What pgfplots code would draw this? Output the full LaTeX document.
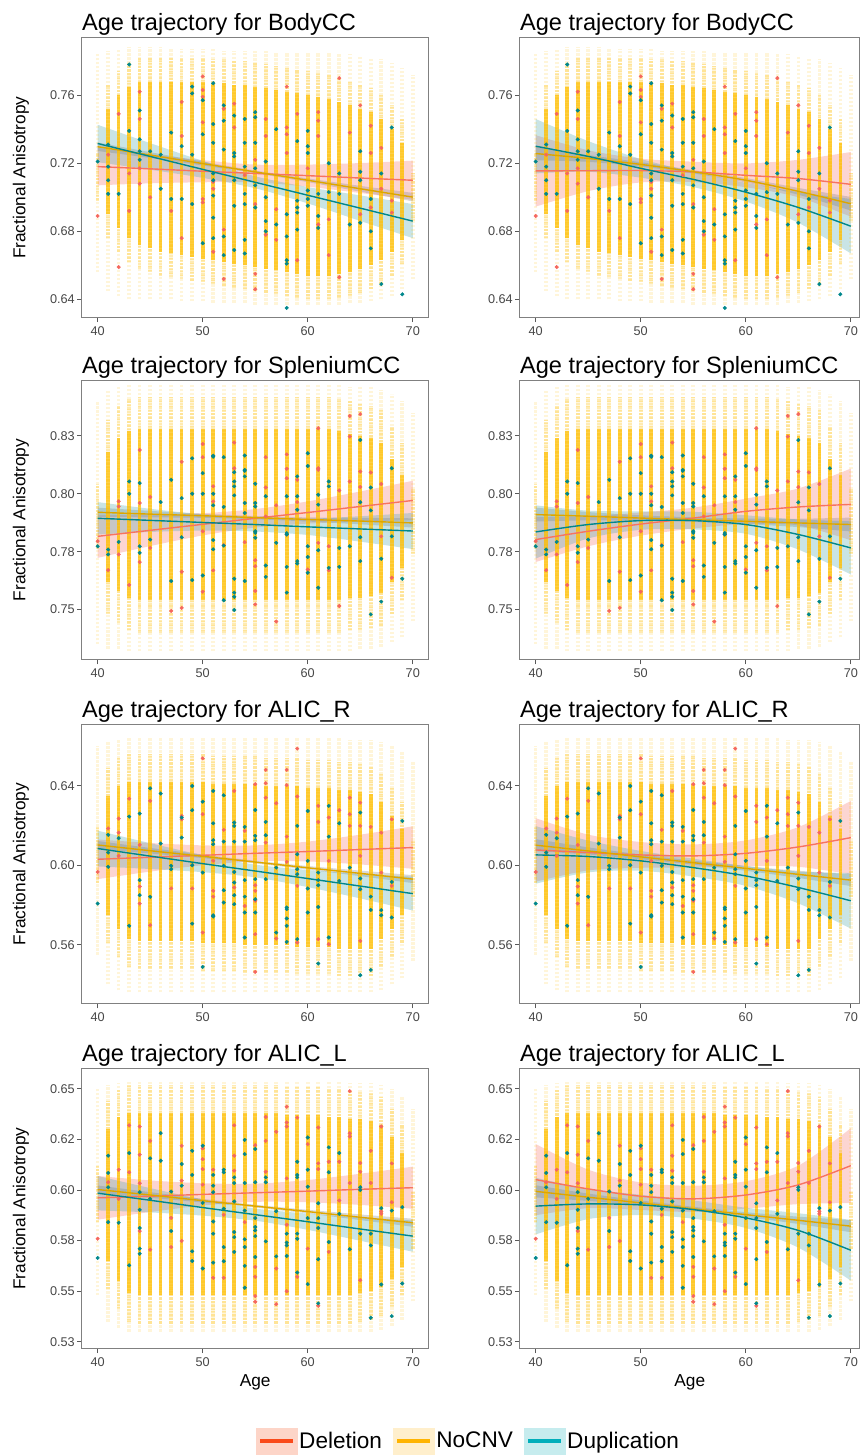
\documentclass[border=0pt]{standalone}
\usepackage{fontspec}
\setmainfont{Liberation Sans}
\usepackage{pgfplots}
\usepackage{pgfplotstable}
\pgfplotsset{compat=1.18}
\usepgfplotslibrary{fillbetween}

\definecolor{delc}{HTML}{F5675F}
\definecolor{dell}{HTML}{F8735F}
\definecolor{dupc}{HTML}{00878C}
\definecolor{noc}{HTML}{FFBE00}
\definecolor{nocl}{HTML}{DDA600}
\definecolor{dupband}{HTML}{3E9EA2}
\definecolor{legdel}{HTML}{FA4A1A}
\definecolor{legdelf}{HTML}{FDD5C8}
\definecolor{legno}{HTML}{FFB400}
\definecolor{legnof}{HTML}{FFEFCC}
\definecolor{legdup}{HTML}{00AEBA}
\definecolor{legdupf}{HTML}{C6ECEE}

% ---------- NoCNV column extents: age lo q1 q3 hi ----------
\pgfplotstableread{
age lo q1 q3 hi
40 .656 .712 .712 .784
41 .645 .690 .752 .786
42 .642 .682 .760 .787
43 .640 .676 .765 .788
44 .640 .672 .768 .788
45 .640 .670 .768 .788
46 .640 .668 .768 .788
47 .640 .667 .768 .787
48 .639 .666 .768 .787
49 .639 .665 .768 .787
50 .639 .664 .768 .787
51 .638 .663 .767 .787
52 .638 .662 .767 .786
53 .638 .661 .766 .786
54 .638 .660 .766 .786
55 .637 .659 .765 .786
56 .637 .658 .764 .786
57 .637 .657 .763 .785
58 .637 .656 .762 .785
59 .637 .655 .761 .785
60 .637 .654 .760 .785
61 .637 .654 .759 .785
62 .637 .654 .758 .785
63 .637 .655 .756 .784
64 .638 .656 .754 .784
65 .638 .658 .752 .783
66 .639 .660 .750 .782
67 .640 .663 .746 .781
68 .642 .668 .740 .779
69 .646 .675 .732 .776
70 .652 .700 .700 .772
}\colsA
\pgfplotstableread{
age lo q1 q3 hi
40 .735 .790 .790 .840
41 .733 .762 .818 .845
42 .733 .758 .824 .846
43 .732 .755 .827 .847
44 .732 .754 .828 .847
45 .732 .754 .828 .847
46 .732 .754 .828 .847
47 .732 .754 .828 .847
48 .732 .754 .828 .847
49 .732 .754 .828 .847
50 .732 .754 .828 .847
51 .732 .754 .828 .847
52 .732 .754 .828 .847
53 .732 .754 .828 .847
54 .732 .754 .828 .847
55 .732 .754 .828 .847
56 .732 .754 .828 .847
57 .732 .754 .828 .847
58 .732 .754 .828 .847
59 .732 .754 .828 .847
60 .732 .754 .828 .847
61 .732 .754 .828 .847
62 .732 .754 .828 .847
63 .732 .754 .827 .847
64 .732 .755 .826 .846
65 .733 .755 .825 .846
66 .733 .756 .824 .846
67 .734 .757 .822 .845
68 .736 .762 .815 .843
69 .738 .768 .808 .840
70 .745 .788 .788 .835
}\colsB
\pgfplotstableread{
age lo q1 q3 hi
40 .555 .605 .605 .660
41 .540 .575 .635 .662
42 .537 .568 .640 .663
43 .536 .563 .642 .664
44 .536 .562 .642 .664
45 .536 .562 .642 .664
46 .536 .562 .642 .664
47 .536 .562 .642 .664
48 .536 .562 .642 .664
49 .536 .562 .642 .664
50 .536 .561 .642 .664
51 .536 .561 .641 .664
52 .536 .561 .641 .664
53 .536 .561 .641 .664
54 .536 .560 .641 .664
55 .536 .560 .641 .664
56 .536 .560 .640 .664
57 .536 .560 .640 .664
58 .536 .560 .640 .664
59 .536 .559 .640 .664
60 .536 .559 .639 .664
61 .536 .559 .639 .664
62 .536 .559 .639 .664
63 .536 .558 .638 .664
64 .536 .558 .638 .663
65 .536 .558 .637 .663
66 .536 .558 .636 .663
67 .537 .563 .632 .662
68 .540 .568 .625 .660
69 .543 .575 .618 .657
70 .552 .598 .598 .652
}\colsC
\pgfplotstableread{
age lo q1 q3 hi
40 .548 .598 .598 .650
41 .535 .565 .630 .652
42 .532 .555 .636 .653
43 .530 .549 .638 .654
44 .530 .548 .638 .654
45 .530 .548 .638 .654
46 .530 .548 .638 .654
47 .530 .548 .638 .654
48 .530 .548 .638 .654
49 .530 .548 .638 .654
50 .530 .548 .638 .654
51 .530 .548 .638 .654
52 .530 .548 .638 .654
53 .530 .548 .638 .654
54 .530 .548 .638 .654
55 .530 .548 .638 .654
56 .530 .548 .638 .654
57 .530 .548 .638 .654
58 .530 .548 .637 .654
59 .530 .548 .637 .654
60 .530 .548 .637 .654
61 .530 .548 .637 .654
62 .530 .548 .636 .654
63 .530 .548 .636 .654
64 .530 .548 .635 .653
65 .530 .549 .635 .653
66 .530 .550 .634 .653
67 .531 .552 .632 .652
68 .533 .556 .626 .650
69 .536 .562 .618 .646
70 .545 .585 .585 .640
}\colsD

% ---------- fitted trajectories and 95% bands ----------
\pgfplotstableread{
age dF dL dU nF nL nU uF uL uU
40 .7180 .7070 .7290 .7297 .7272 .7322 .7316 .7206 .7426
45 .7167 .7082 .7252 .7248 .7231 .7265 .7240 .7162 .7318
50 .7153 .7088 .7218 .7198 .7187 .7209 .7164 .7114 .7214
55 .7140 .7088 .7192 .7149 .7141 .7157 .7088 .7053 .7123
60 .7127 .7062 .7192 .7100 .7089 .7111 .7012 .6964 .7060
65 .7113 .7025 .7201 .7050 .7033 .7067 .6936 .6861 .7011
70 .7100 .6985 .7215 .7001 .6976 .7026 .6860 .6760 .6960
}\fitAa
\pgfplotstableread{
age dF dL dU nF nL nU uF uL uU
40 .7155 .6945 .7365 .7257 .7217 .7297 .7300 .7140 .7460
45 .7156 .7036 .7276 .7228 .7208 .7248 .7240 .7150 .7330
50 .7157 .7087 .7227 .7193 .7180 .7206 .7170 .7115 .7225
55 .7149 .7089 .7209 .7150 .7140 .7160 .7105 .7060 .7150
60 .7129 .7059 .7199 .7100 .7087 .7113 .7030 .6975 .7085
65 .7110 .7000 .7220 .7035 .7015 .7055 .6940 .6850 .7030
70 .7076 .6886 .7266 .6962 .6922 .7002 .6830 .6670 .6990
}\fitAb
\pgfplotstableread{
age dF dL dU nF nL nU uF uL uU
40 .7816 .7723 .7909 .7920 .7900 .7940 .7894 .7824 .7964
45 .7842 .7774 .7910 .7912 .7898 .7926 .7885 .7835 .7935
50 .7868 .7820 .7916 .7905 .7896 .7914 .7876 .7841 .7911
55 .7894 .7854 .7934 .7897 .7890 .7904 .7867 .7837 .7897
60 .7919 .7871 .7967 .7889 .7880 .7898 .7857 .7822 .7892
65 .7945 .7880 .8010 .7882 .7868 .7896 .7848 .7793 .7903
70 .7971 .7886 .8056 .7874 .7854 .7894 .7839 .7761 .7917
}\fitBa
\pgfplotstableread{
age dF dL dU nF nL nU uF uL uU
40 .7802 .7705 .7899 .7910 .7880 .7940 .7835 .7720 .7950
45 .7838 .7773 .7903 .7903 .7885 .7921 .7867 .7807 .7927
50 .7869 .7819 .7919 .7895 .7883 .7907 .7884 .7844 .7924
55 .7895 .7850 .7940 .7888 .7878 .7898 .7884 .7846 .7922
60 .7924 .7869 .7979 .7881 .7869 .7893 .7867 .7827 .7907
65 .7943 .7863 .8023 .7874 .7856 .7892 .7824 .7759 .7889
70 .7954 .7799 .8109 .7867 .7837 .7897 .7766 .7651 .7881
}\fitBb
\pgfplotstableread{
age dF dL dU nF nL nU uF uL uU
40 .6030 .5930 .6130 .6102 .6082 .6122 .6084 .5994 .6174
45 .6040 .5968 .6112 .6073 .6059 .6087 .6046 .5981 .6111
50 .6050 .6000 .6100 .6045 .6036 .6054 .6008 .5965 .6051
55 .6060 .6020 .6100 .6016 .6009 .6023 .5971 .5939 .6003
60 .6069 .6019 .6119 .5987 .5978 .5996 .5933 .5890 .5976
65 .6079 .6004 .6154 .5959 .5945 .5973 .5895 .5833 .5957
70 .6089 .5982 .6196 .5930 .5910 .5950 .5857 .5772 .5942
}\fitCa
\pgfplotstableread{
age dF dL dU nF nL nU uF uL uU
40 .6077 .5917 .6237 .6101 .6071 .6131 .6052 .5907 .6197
45 .6064 .5974 .6154 .6072 .6054 .6090 .6044 .5964 .6124
50 .6052 .5987 .6117 .6042 .6030 .6054 .6022 .5972 .6072
55 .6047 .5989 .6105 .6013 .6003 .6023 .5988 .5943 .6033
60 .6060 .5995 .6125 .5984 .5972 .5996 .5946 .5896 .5996
65 .6092 .5992 .6192 .5954 .5936 .5972 .5888 .5808 .5968
70 .6139 .5954 .6324 .5925 .5895 .5955 .5821 .5681 .5961
}\fitCb
\pgfplotstableread{
age dF dL dU nF nL nU uF uL uU
40 .5961 .5853 .6069 .6002 .5982 .6022 .5984 .5899 .6069
45 .5969 .5891 .6047 .5975 .5961 .5989 .5949 .5889 .6009
50 .5978 .5923 .6033 .5947 .5938 .5956 .5913 .5873 .5953
55 .5986 .5941 .6031 .5920 .5913 .5927 .5878 .5848 .5908
60 .5994 .5939 .6049 .5893 .5884 .5902 .5843 .5803 .5883
65 .6003 .5926 .6080 .5865 .5851 .5879 .5807 .5749 .5865
70 .6011 .5907 .6115 .5838 .5818 .5858 .5772 .5695 .5849
}\fitDa
\pgfplotstableread{
age dF dL dU nF nL nU uF uL uU
40 .6051 .5875 .6227 .5993 .5963 .6023 .5920 .5780 .6060
45 .6005 .5910 .6100 .5964 .5946 .5982 .5931 .5856 .6006
50 .5969 .5901 .6037 .5936 .5924 .5948 .5926 .5876 .5976
55 .5956 .5891 .6021 .5907 .5897 .5917 .5903 .5858 .5948
60 .5975 .5907 .6043 .5878 .5866 .5890 .5862 .5812 .5912
65 .6025 .5930 .6120 .5850 .5832 .5868 .5800 .5715 .5885
70 .6120 .5935 .6305 .5821 .5791 .5851 .5702 .5552 .5852
}\fitDb

% ---------- Deletion / Duplication carriers ----------
\pgfplotstableread{
x y
40 .689
41 .725
42 .749
42 .659
43 .714
43 .692
44 .762
44 .746
44 .717
44 .708
45 .700
47 .692
48 .756
48 .736
48 .676
50 .771
50 .763
50 .759
50 .744
50 .699
50 .697
51 .709
51 .705
51 .668
52 .752
52 .681
52 .652
53 .755
53 .741
54 .713
55 .722
55 .696
55 .655
55 .646
56 .746
56 .736
56 .678
57 .693
57 .675
58 .765
58 .741
58 .737
58 .726
59 .749
59 .663
60 .717
61 .750
61 .745
61 .736
61 .684
62 .687
62 .666
63 .770
63 .653
64 .738
65 .754
65 .690
66 .742
66 .726
66 .694
67 .729
67 .705
68 .698
68 .691
}\delA
\pgfplotstableread{
x y
40 .721
41 .731
41 .718
41 .710
41 .702
42 .702
43 .778
43 .739
44 .751
44 .734
44 .727
44 .722
45 .727
46 .725
46 .705
47 .738
47 .699
48 .730
48 .699
49 .765
49 .761
49 .725
49 .696
50 .757
50 .737
50 .673
51 .767
51 .743
51 .732
51 .714
51 .710
51 .701
51 .688
51 .676
52 .754
52 .745
52 .728
52 .677
52 .666
53 .748
53 .726
53 .724
53 .710
53 .695
53 .669
54 .746
54 .732
54 .718
54 .702
54 .696
54 .675
54 .667
55 .750
55 .747
55 .732
55 .717
55 .707
55 .694
56 .721
56 .700
56 .686
56 .680
57 .740
57 .684
58 .690
58 .677
58 .663
58 .661
58 .635
59 .733
59 .698
59 .694
59 .691
59 .681
60 .739
60 .730
60 .726
60 .704
60 .699
60 .695
61 .702
61 .689
61 .682
62 .720
62 .703
63 .714
63 .702
64 .684
65 .727
65 .715
65 .710
65 .685
66 .699
66 .680
66 .670
67 .714
67 .649
68 .741
69 .643
}\dupA
\pgfplotstableread{
x y
40 .7795
41 .767
42 .7967
42 .7945
42 .7738
43 .7606
44 .8189
44 .796
44 .7705
45 .7986
45 .7766
47 .7494
48 .8138
48 .7663
48 .7507
50 .8215
50 .8158
50 .7838
50 .7577
51 .8032
51 .7967
51 .7669
52 .7778
53 .8221
53 .811
54 .7791
55 .7713
55 .7687
55 .758
55 .7522
56 .8158
56 .8027
56 .7902
57 .795
57 .7448
58 .817
58 .8108
58 .8067
58 .7824
59 .806
59 .7964
60 .7673
61 .8283
61 .811
61 .8103
61 .7788
62 .7773
62 .7669
63 .8014
63 .7515
64 .8336
64 .8247
64 .8053
65 .8344
65 .8096
65 .8029
66 .8092
67 .8042
67 .7816
68 .7637
}\delB
\pgfplotstableread{
x y
40 .7773
41 .7759
41 .7738
42 .7792
43 .8053
43 .800
44 .8046
44 .7773
44 .7745
45 .7802
46 .7964
47 .806
47 .7623
48 .7981
48 .7812
49 .8153
49 .800
49 .7627
50 .8089
50 .800
50 .7647
51 .8164
51 .816
51 .800
51 .795
51 .780
51 .776
52 .8158
52 .7943
52 .7776
52 .754
53 .8093
53 .8053
53 .8032
53 .7993
53 .7633
53 .7573
53 .7555
53 .7498
54 .8165
54 .8103
54 .8099
54 .8075
54 .796
54 .7917
54 .7623
55 .8043
55 .796
55 .7945
55 .7838
55 .7831
55 .781
56 .7989
56 .769
56 .7641
57 .7788
58 .7989
58 .783
58 .7824
58 .7684
58 .7573
59 .8075
59 .7989
59 .7931
59 .7709
59 .7699
60 .8175
60 .812
60 .7773
60 .7727
60 .7659
61 .7996
61 .7953
61 .7756
61 .7594
62 .8053
62 .8032
62 .768
63 .7766
63 .7684
64 .7773
65 .8232
65 .7963
65 .7812
65 .7709
66 .8027
66 .7928
66 .7479
67 .7719
67 .7534
68 .811
68 .7816
69 .7633
}\dupB
\pgfplotstableread{
x y
40 .5966
41 .6185
42 .6235
42 .6164
42 .6047
43 .6335
44 .6102
44 .5893
44 .5807
45 .6324
45 .5698
47 .5883
48 .6248
48 .6231
49 .5883
50 .6538
50 .6257
50 .5661
51 .6022
51 .5871
51 .5842
52 .6178
53 .6374
53 .5888
54 .6173
54 .5795
55 .6408
55 .5899
55 .5871
55 .5821
55 .5653
55 .5463
56 .648
56 .6413
56 .6340
56 .6114
57 .6312
57 .5631
58 .648
58 .6403
58 .6144
58 .6017
59 .6587
59 .6346
59 .5896
59 .5611
61 .6299
61 .6218
61 .5628
62 .624
62 .6022
62 .5602
63 .6277
64 .634
64 .6257
64 .6198
65 .6315
65 .6198
65 .6047
65 .5619
66 .6193
67 .6164
67 .5963
68 .6231
68 .5896
}\delC
\pgfplotstableread{
x y
40 .5807
41 .6153
41 .6064
41 .5992
42 .6136
43 .6245
43 .5695
44 .626
44 .5925
44 .5849
45 .6387
45 .5841
46 .6361
46 .6109
47 .5997
47 .598
48 .624
48 .6139
49 .6399
49 .6277
49 .600
49 .5706
50 .632
50 .5963
50 .5488
51 .6374
51 .6211
51 .6126
51 .6106
51 .5748
51 .5742
52 .6352
52 .6119
52 .5997
52 .5874
52 .5812
53 .6215
53 .6198
53 .6119
53 .5966
53 .5913
53 .5849
53 .5804
54 .6193
54 .6119
54 .5925
54 .5842
54 .5762
54 .5636
55 .6278
55 .6148
55 .6126
55 .593
55 .5829
55 .5762
56 .6218
56 .6151
56 .593
57 .5988
57 .5661
58 .5787
58 .5779
58 .5732
58 .5695
58 .5614
59 .6198
59 .6055
59 .598
59 .5955
59 .5628
60 .6273
60 .6022
60 .5883
60 .5762
61 .5963
61 .5925
61 .5899
61 .579
61 .5505
62 .6299
62 .6144
62 .5636
63 .6211
63 .5921
64 .5988
65 .6265
65 .5933
65 .5879
65 .5446
66 .5842
66 .5775
66 .5473
67 .5774
67 .5748
68 .5916
68 .5737
69 .6223
}\dupC
\pgfplotstableread{
x y
40 .5759
41 .6038
42 .610
42 .5956
43 .6319
43 .6087
44 .6313
44 .6174
44 .6033
44 .5797
45 .6242
45 .5705
47 .5862
47 .5718
48 .6218
48 .6046
48 .5748
50 .6205
50 .6152
50 .6103
50 .6026
51 .610
51 .5566
52 .5877
52 .5566
53 .6319
53 .6169
53 .6095
54 .5841
55 .6221
55 .562
55 .5571
55 .5476
55 .5448
56 .636
56 .6242
56 .609
57 .6287
57 .5612
57 .5436
58 .6411
58 .6333
58 .6313
58 .6057
58 .5828
58 .55
59 .6357
59 .5571
60 .6226
60 .571
61 .6308
61 .6131
61 .6103
61 .5428
62 .6139
62 .5694
63 .6139
63 .5948
64 .6488
64 .628
64 .6264
64 .6034
65 .6133
65 .609
65 .5554
66 .6193
66 .6034
67 .6313
67 .5894
67 .5882
68 .6131
68 .5939
}\delD
\pgfplotstableread{
x y
40 .5664
41 .6169
41 .6084
41 .6013
41 .5841
42 .5838
43 .6182
43 .5628
44 .5989
44 .5902
44 .5812
44 .571
44 .5685
45 .6156
45 .5956
46 .628
46 .6144
47 .5992
47 .5797
48 .6128
48 .6021
49 .6193
49 .6074
49 .5697
49 .5649
50 .6218
50 .5936
50 .5612
51 .6074
51 .6021
51 .5989
51 .5844
51 .5784
51 .5641
52 .610
52 .6087
52 .5907
52 .5718
52 .5648
53 .6062
53 .6034
53 .5943
53 .5792
53 .5767
53 .5694
54 .6247
54 .6177
54 .6034
54 .5898
54 .5756
54 .5718
54 .5625
54 .5517
55 .6202
55 .6038
55 .5861
55 .5817
55 .58
55 .5772
55 .5669
56 .6062
56 .6038
56 .5746
57 .5895
57 .5672
58 .5784
58 .574
58 .5726
58 .5674
59 .6139
59 .6074
59 .6062
59 .5784
59 .5759
59 .5592
60 .6259
60 .610
60 .6016
60 .5861
60 .5535
61 .5934
61 .5861
61 .5812
61 .5658
61 .544
62 .621
62 .6087
62 .5743
63 .6182
63 .5882
64 .5707
65 .6013
65 .600
65 .5784
66 .5784
66 .5726
66 .5369
67 .591
67 .5533
68 .5898
68 .5377
69 .5915
69 .5538
}\dupD

\newcommand{\panelplots}[4]{%
  % NoCNV participants (dense columns, one per year of age)
  \addplot[forget plot, draw=none, mark=none, error bars/.cd, y dir=plus, y explicit, error mark=none,
    error bar style={draw=noc, solid, line width=3.6pt, opacity=0.15, dash pattern=on 2.4pt off 1.6pt}]
    table[x=age, y=lo, y error plus expr=\thisrow{hi}-\thisrow{lo}] {#1};
  \addplot[forget plot, draw=none, mark=none, error bars/.cd, y dir=plus, y explicit, error mark=none,
    error bar style={draw=noc, line width=3.6pt, opacity=0.3, dash pattern=on 2.4pt off 1pt}]
    table[x=age, y expr=\thisrow{q1}-0.014, y error plus expr=\thisrow{q3}-\thisrow{q1}+0.028] {#1};
  \addplot[forget plot, draw=none, mark=none, error bars/.cd, y dir=plus, y explicit, error mark=none,
    error bar style={draw=noc, solid, line width=3.6pt, opacity=0.72}]
    table[x=age, y=q1, y error plus expr=\thisrow{q3}-\thisrow{q1}] {#1};
  % Deletion and Duplication carriers
  \addplot[forget plot, only marks, color=delc, mark=*, mark size=1.8pt] table[x=x, y=y] {#3};
  \addplot[forget plot, only marks, color=dupc, mark=*, mark size=1.8pt] table[x=x, y=y] {#4};
  % Deletion fit
  \addplot[forget plot, name path=dlo, draw=none, smooth] table[x=age, y=dL] {#2};
  \addplot[forget plot, name path=dhi, draw=none, smooth] table[x=age, y=dU] {#2};
  \addplot[forget plot, fill=delc, fill opacity=0.28, draw=none] fill between[of=dlo and dhi];
  \addplot[forget plot, dell, line width=1.4pt, smooth] table[x=age, y=dF] {#2};
  % NoCNV fit
  \addplot[forget plot, name path=nlo, draw=none, smooth] table[x=age, y=nL] {#2};
  \addplot[forget plot, name path=nhi, draw=none, smooth] table[x=age, y=nU] {#2};
  \addplot[forget plot, fill=gray, fill opacity=0.3, draw=none] fill between[of=nlo and nhi];
  \addplot[forget plot, nocl, line width=1.4pt, smooth] table[x=age, y=nF] {#2};
  % Duplication fit
  \addplot[forget plot, name path=ulo, draw=none, smooth] table[x=age, y=uL] {#2};
  \addplot[forget plot, name path=uhi, draw=none, smooth] table[x=age, y=uU] {#2};
  \addplot[forget plot, fill=dupband, fill opacity=0.28, draw=none] fill between[of=ulo and uhi];
  \addplot[forget plot, dupc, line width=1.4pt, smooth] table[x=age, y=uF] {#2};
}

\pgfplotsset{
  panel/.style={
    scale only axis, height=280pt,
    xtick={40,50,60,70}, xticklabels={40,50,60,70},
    tick align=outside, xtick pos=bottom, ytick pos=left,
    major tick length=4.5pt,
    axis line style={draw=black!50, line width=0.9pt},
    tick style={draw=black!65, line width=0.8pt},
    tick label style={font=\fontsize{12.7}{15}\selectfont, text=black!72},
    xticklabel style={inner sep=4pt},
    yticklabel style={inner sep=2.5pt},
    title style={at={(0,1)}, anchor=base west, yshift=1pt, inner sep=0pt, font=\fontsize{23.6}{27}\selectfont},
    xlabel style={at={(axis description cs:0.5,0)}, anchor=north, yshift=-26pt, inner sep=0pt, font=\fontsize{17.3}{20}\selectfont},
  },
  leftp/.style={panel, width=347pt, xmin=38.5, xmax=71.5,
    ylabel={Fractional Anisotropy},
    ylabel style={at={(axis description cs:-0.176,0.5)}, anchor=center, font=\fontsize{17.3}{20}\selectfont}},
  rightp/.style={panel, width=340pt, xmin=38.5, xmax=70.83},
  rowA/.style={ymin=0.6293, ymax=0.7936, ytick={0.64,0.68,0.72,0.76}, yticklabels={0.64,0.68,0.72,0.76}, title={Age trajectory for BodyCC}},
  rowB/.style={ymin=0.7283, ymax=0.8491, ytick={0.75,0.775,0.8,0.825}, yticklabels={0.75,0.78,0.80,0.83}, title={Age trajectory for SpleniumCC}},
  rowC/.style={ymin=0.5302, ymax=0.6710, ytick={0.56,0.6,0.64}, yticklabels={0.56,0.60,0.64}, title={Age trajectory for ALIC\_R}},
  rowD/.style={ymin=0.5217, ymax=0.6598, ytick={0.525,0.55,0.575,0.6,0.625,0.65}, yticklabels={0.53,0.55,0.58,0.60,0.62,0.65}, title={Age trajectory for ALIC\_L}},
}

\begin{document}
\begin{tikzpicture}
\path (0pt,0pt) rectangle (861pt,1456pt);

\begin{axis}[leftp, rowA, at={(82pt,1138pt)}, anchor=south west]
\panelplots{\colsA}{\fitAa}{\delA}{\dupA}
\end{axis}
\begin{axis}[rightp, rowA, at={(520.5pt,1138pt)}, anchor=south west]
\panelplots{\colsA}{\fitAb}{\delA}{\dupA}
\end{axis}

\begin{axis}[leftp, rowB, at={(82pt,795.5pt)}, anchor=south west]
\panelplots{\colsB}{\fitBa}{\delB}{\dupB}
\end{axis}
\begin{axis}[rightp, rowB, at={(520.5pt,795.5pt)}, anchor=south west]
\panelplots{\colsB}{\fitBb}{\delB}{\dupB}
\end{axis}

\begin{axis}[leftp, rowC, at={(82pt,451pt)}, anchor=south west]
\panelplots{\colsC}{\fitCa}{\delC}{\dupC}
\end{axis}
\begin{axis}[rightp, rowC, at={(520.5pt,451pt)}, anchor=south west]
\panelplots{\colsC}{\fitCb}{\delC}{\dupC}
\end{axis}

\begin{axis}[leftp, rowD, at={(82pt,106pt)}, anchor=south west, xlabel={Age},
  legend columns=3,
  legend style={at={(1.115,-0.33)}, anchor=center, draw=none, fill=none,
    font=\fontsize{22.6}{26}\selectfont,
    nodes={inner sep=2pt},
    /tikz/every even column/.append style={column sep=9pt}}]
\panelplots{\colsD}{\fitDa}{\delD}{\dupD}
\addlegendimage{legend image code/.code={\fill[legdelf] (0pt,-13pt) rectangle (41pt,13pt); \draw[legdel, line width=4.5pt] (4pt,0pt) -- (37pt,0pt);}}
\addlegendentry{Deletion}
\addlegendimage{legend image code/.code={\fill[legnof] (0pt,-13pt) rectangle (41pt,13pt); \draw[legno, line width=4.5pt] (4pt,0pt) -- (37pt,0pt);}}
\addlegendentry{NoCNV}
\addlegendimage{legend image code/.code={\fill[legdupf] (0pt,-13pt) rectangle (41pt,13pt); \draw[legdup, line width=4.5pt] (4pt,0pt) -- (37pt,0pt);}}
\addlegendentry{Duplication}
\end{axis}
\begin{axis}[rightp, rowD, at={(520.5pt,106pt)}, anchor=south west, xlabel={Age}]
\panelplots{\colsD}{\fitDb}{\delD}{\dupD}
\end{axis}
\end{tikzpicture}
\end{document}
